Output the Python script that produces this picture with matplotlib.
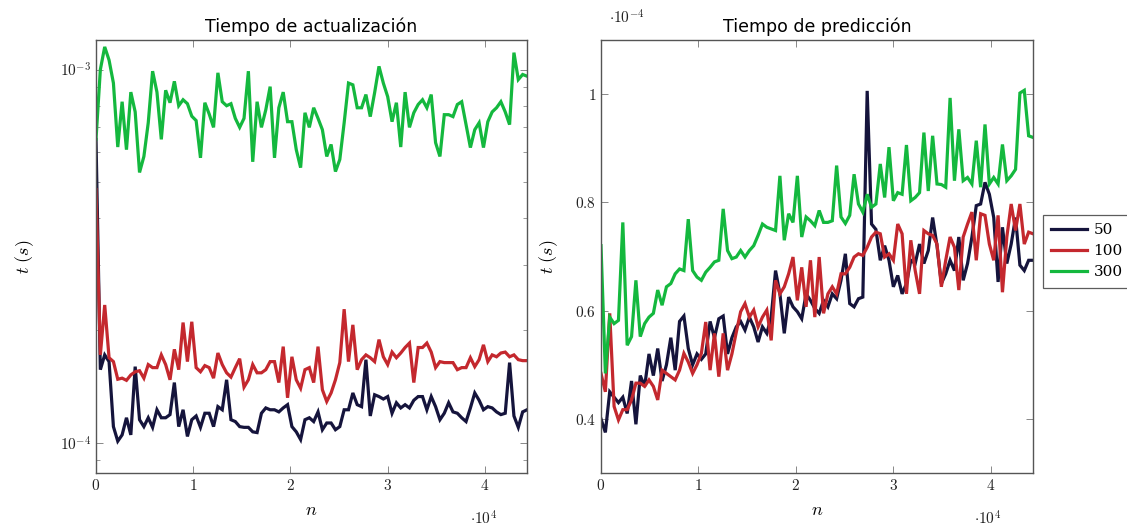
import numpy as np
import matplotlib
matplotlib.use("Agg")
import matplotlib.pyplot as plt
from matplotlib.ticker import FixedLocator, LogLocator, NullFormatter

plt.rcParams['mathtext.fontset'] = 'cm'

# ---------------- data ----------------
n_step = 448
n_points = 100
n = np.arange(n_points) * n_step

labels = ["50", "100", "300"]
colors = ["#15143c", "#c4282e", "#14b83e"]

# Tiempo de actualización (units of 1e-4 s)
upd_50 = [6.5, 1.57, 1.72, 1.65, 1.105, 1.01, 1.05, 1.167, 1.05, 1.60,
          1.153, 1.105, 1.167, 1.10, 1.226, 1.167, 1.167, 1.19, 1.45, 1.105,
          1.226, 1.04, 1.153, 1.18, 1.10, 1.20, 1.20, 1.105, 1.25, 1.226,
          1.475, 1.153, 1.14, 1.105, 1.10, 1.10, 1.07, 1.065, 1.20, 1.24,
          1.226, 1.226, 1.21, 1.24, 1.265, 1.105, 1.07, 1.02, 1.153, 1.167,
          1.14, 1.21, 1.084, 1.13, 1.13, 1.084, 1.105, 1.226, 1.226, 1.36,
          1.265, 1.25, 1.67, 1.18, 1.345, 1.33, 1.31, 1.33, 1.20, 1.28,
          1.24, 1.265, 1.24, 1.30, 1.33, 1.33, 1.226, 1.33, 1.25, 1.153,
          1.20, 1.28, 1.21, 1.20, 1.167, 1.14, 1.24, 1.36, 1.30, 1.226,
          1.25, 1.24, 1.21, 1.19, 1.20, 1.64, 1.18, 1.10, 1.21, 1.226]
upd_100 = [4.77, 1.72, 2.34, 1.69, 1.65, 1.48, 1.49, 1.47, 1.52, 1.55,
           1.56, 1.49, 1.62, 1.59, 1.59, 1.72, 1.62, 1.475, 1.78, 1.57,
           2.10, 1.65, 2.11, 1.59, 1.55, 1.61, 1.59, 1.49, 1.74, 1.62,
           1.54, 1.50, 1.59, 1.68, 1.41, 1.475, 1.62, 1.54, 1.54, 1.57,
           1.65, 1.65, 1.45, 1.81, 1.32, 1.70, 1.475, 1.40, 1.57, 1.59,
           1.45, 1.81, 1.387, 1.29, 1.36, 1.475, 1.64, 2.28, 1.65, 2.07,
           1.57, 1.67, 1.72, 1.69, 1.65, 1.89, 1.70, 1.62, 1.75, 1.69,
           1.74, 1.80, 1.85, 1.45, 1.80, 1.80, 1.85, 1.75, 1.59, 1.65,
           1.64, 1.64, 1.64, 1.57, 1.59, 1.59, 1.69, 1.60, 1.67, 1.83,
           1.65, 1.72, 1.70, 1.74, 1.75, 1.70, 1.72, 1.67, 1.66, 1.66]
upd_300 = [6.5, 10.0, 11.5, 10.6, 9.2, 6.2, 8.2, 6.1, 8.7, 7.7,
           5.3, 5.85, 7.2, 9.9, 8.7, 6.5, 8.8, 8.15, 9.3, 8.0,
           8.3, 8.1, 7.5, 7.3, 5.8, 8.15, 7.6, 7.0, 9.8, 8.2,
           8.0, 8.1, 7.4, 7.0, 7.4, 9.9, 5.66, 8.2, 7.0, 7.8,
           9.0, 5.8, 7.9, 8.7, 7.25, 7.25, 6.1, 5.46, 7.66, 7.0,
           7.9, 7.4, 6.9, 5.85, 6.3, 5.33, 5.74, 7.2, 9.2, 9.1,
           7.9, 7.9, 8.57, 7.48, 8.67, 10.2, 9.2, 8.46, 7.25, 8.15,
           6.2, 8.7, 7.0, 7.66, 8.06, 8.3, 7.9, 8.57, 6.37, 5.85,
           7.57, 7.57, 7.48, 8.06, 8.2, 7.12, 6.18, 6.9, 7.2, 6.18,
           7.25, 7.7, 7.9, 8.2, 7.7, 7.12, 11.1, 9.4, 9.7, 9.6]

# Tiempo de predicción (units of 1e-4 s)
pred_50 = [0.40, 0.375, 0.45, 0.44, 0.43, 0.44, 0.41, 0.47, 0.39, 0.48,
           0.46, 0.52, 0.48, 0.53, 0.47, 0.50, 0.55, 0.49, 0.58, 0.59,
           0.53, 0.50, 0.52, 0.51, 0.52, 0.58, 0.55, 0.585, 0.59, 0.52,
           0.55, 0.57, 0.58, 0.564, 0.588, 0.570, 0.542, 0.570, 0.558, 0.588,
           0.674, 0.631, 0.558, 0.625, 0.607, 0.598, 0.585, 0.631, 0.619, 0.604,
           0.595, 0.619, 0.607, 0.631, 0.622, 0.656, 0.705, 0.613, 0.607, 0.622,
           0.625, 1.006, 0.76, 0.75, 0.693, 0.72, 0.693, 0.644, 0.665, 0.631,
           0.65, 0.693, 0.687, 0.723, 0.687, 0.711, 0.772, 0.72, 0.65, 0.668,
           0.693, 0.674, 0.736, 0.656, 0.687, 0.736, 0.794, 0.797, 0.837, 0.815,
           0.772, 0.653, 0.754, 0.687, 0.723, 0.772, 0.684, 0.674, 0.693, 0.693]
pred_100 = [0.484, 0.45, 0.595, 0.423, 0.398, 0.417, 0.417, 0.435, 0.466, 0.466,
            0.460, 0.472, 0.460, 0.435, 0.490, 0.484, 0.478, 0.472, 0.490, 0.521,
            0.505, 0.484, 0.500, 0.521, 0.579, 0.490, 0.558, 0.478, 0.558, 0.490,
            0.520, 0.560, 0.598, 0.613, 0.588, 0.601, 0.570, 0.588, 0.601, 0.545,
            0.656, 0.631, 0.644, 0.668, 0.699, 0.619, 0.680, 0.607, 0.693, 0.588,
            0.699, 0.595, 0.631, 0.644, 0.631, 0.668, 0.668, 0.680, 0.699, 0.705,
            0.702, 0.717, 0.736, 0.745, 0.742, 0.699, 0.705, 0.693, 0.760, 0.742,
            0.631, 0.730, 0.674, 0.631, 0.748, 0.742, 0.739, 0.723, 0.644, 0.693,
            0.736, 0.717, 0.638, 0.736, 0.760, 0.782, 0.693, 0.779, 0.776, 0.723,
            0.693, 0.776, 0.634, 0.736, 0.797, 0.748, 0.797, 0.723, 0.745, 0.742]
pred_300 = [0.720, 0.484, 0.588, 0.576, 0.582, 0.763, 0.536, 0.552, 0.656, 0.552,
            0.576, 0.588, 0.595, 0.638, 0.610, 0.644, 0.650, 0.668, 0.677, 0.674,
            0.769, 0.674, 0.662, 0.656, 0.671, 0.680, 0.690, 0.693, 0.788, 0.711,
            0.696, 0.699, 0.711, 0.699, 0.711, 0.720, 0.739, 0.760, 0.754, 0.751,
            0.748, 0.849, 0.730, 0.779, 0.763, 0.849, 0.736, 0.773, 0.766, 0.757,
            0.785, 0.763, 0.763, 0.766, 0.868, 0.773, 0.761, 0.776, 0.852, 0.797,
            0.782, 0.815, 0.791, 0.797, 0.871, 0.809, 0.902, 0.803, 0.818, 0.815,
            0.906, 0.803, 0.809, 0.818, 0.929, 0.821, 0.923, 0.834, 0.833, 0.828,
            0.993, 0.840, 0.935, 0.840, 0.846, 0.834, 0.914, 0.828, 0.944, 0.834,
            0.846, 0.834, 0.907, 0.840, 0.849, 0.861, 1.002, 1.007, 0.923, 0.920]

x_ticks = [0, 10000, 20000, 30000, 40000]
x_tick_labels = ["0", "1", "2", "3", "4"]
pred_ticks = [0.4e-4, 0.6e-4, 0.8e-4, 1.0e-4]
pred_tick_labels = ["0.4", "0.6", "0.8", "1"]

# ---------------- figure ----------------
W, H = 1127, 527
fig = plt.figure(figsize=(W / 100, H / 100), dpi=100)

def box(l, t, r, b):
    return [l / W, 1 - b / H, (r - l) / W, (b - t) / H]

def px(x, y):
    return (x / W, 1 - y / H)

ax1 = fig.add_axes(box(96, 40, 527, 473))
ax2 = fig.add_axes(box(601, 40, 1033, 473))

frame_col = "#555555"
lw = 2.3
tick_font = 11
txt_col = "#222222"

def style(ax):
    for s in ax.spines.values():
        s.set_color(frame_col)
        s.set_linewidth(1.0)
    ax.tick_params(which="both", direction="in", top=True, right=True,
                   color="#888888", labelsize=tick_font, labelcolor=txt_col)
    ax.tick_params(which="major", length=5, width=0.7)
    ax.tick_params(which="minor", length=3, width=0.6)
    ax.set_xlim(0, n[-1])
    ax.xaxis.set_major_locator(FixedLocator(x_ticks))
    ax.set_xticklabels(["$%s$" % s for s in x_tick_labels])
    ax.set_xlabel("$n$", fontsize=13, labelpad=6)
    ax.set_ylabel(r"$t\ (s)$", fontsize=13)

upd = [upd_50, upd_100, upd_300]
pred = [pred_50, pred_100, pred_300]

for vals, c, lab in zip(upd, colors, labels):
    ax1.plot(n, np.array(vals) * 1e-4, color=c, lw=lw, label=lab,
             solid_joinstyle="miter")
ax1.set_yscale("log")
ax1.set_ylim(8.3e-5, 1.2e-3)
ax1.yaxis.set_major_locator(FixedLocator([1e-4, 1e-3]))
ax1.set_yticklabels([r"$10^{-4}$", r"$10^{-3}$"])
ax1.yaxis.set_minor_locator(LogLocator(base=10, subs=np.arange(2, 10)))
ax1.yaxis.set_minor_formatter(NullFormatter())
style(ax1)
ax1.set_title("Tiempo de actualización", fontsize=12.5, pad=6,
              family="DejaVu Sans")
ax1.yaxis.set_label_coords(-0.14, 0.5)

lines = []
for vals, c, lab in zip(pred, colors, labels):
    ln, = ax2.plot(n, np.array(vals) * 1e-4, color=c, lw=lw, label=lab,
                   solid_joinstyle="miter")
    lines.append(ln)
ax2.set_ylim(0.3e-4, 1.1e-4)
ax2.yaxis.set_major_locator(FixedLocator(pred_ticks))
ax2.set_yticklabels(["$%s$" % s for s in pred_tick_labels])
style(ax2)
ax2.set_title("Tiempo de predicción", fontsize=12.5, pad=6,
              family="DejaVu Sans")
ax2.yaxis.set_label_coords(-0.095, 0.5)

# pgfplots-style scale labels
fig.text(*px(470, 519), r"$\cdot 10^{4}$", fontsize=11, ha="left",
         va="center", color=txt_col)
fig.text(*px(974, 519), r"$\cdot 10^{4}$", fontsize=11, ha="left",
         va="center", color=txt_col)
fig.text(*px(609, 18), r"$\cdot 10^{-4}$", fontsize=11, ha="left",
         va="center", color=txt_col)

leg = fig.legend(handles=lines, labels=labels, loc="upper left",
                 bbox_to_anchor=(1043 / W, 1 - 215 / H),
                 bbox_transform=fig.transFigure, frameon=True, fancybox=False,
                 handlelength=2.3, handletextpad=0.45, borderpad=0.55,
                 labelspacing=0.45, borderaxespad=0.0,
                 prop={"family": "DejaVu Serif", "size": 11})
leg.get_frame().set_edgecolor("#333333")
leg.get_frame().set_linewidth(0.9)

fig.savefig("out.png", dpi=100)
